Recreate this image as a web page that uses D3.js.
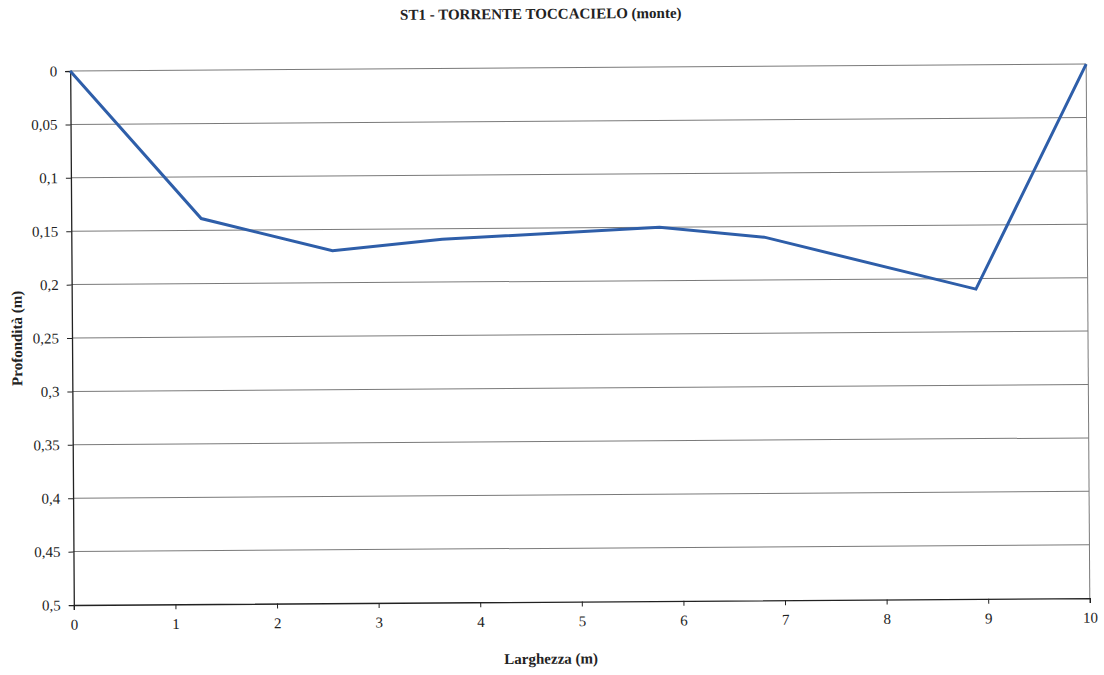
<!DOCTYPE html>
<html><head><meta charset="utf-8">
<script src="https://d3js.org/d3.v7.min.js"></script>
<style>body{margin:0;background:#fff}svg{display:block}
text{font-family:"Liberation Serif","DejaVu Serif",serif}</style>
</head><body>
<script>
const widths = [0, 1.28, 2.57, 3.65, 5.79, 6.82, 8.9, 10];
const depths = [0, 0.139, 0.170, 0.160, 0.150, 0.160, 0.210, 0];
const xTicks = [0,1,2,3,4,5,6,7,8,9,10];
const yTicks = [0,0.05,0.1,0.15,0.2,0.25,0.3,0.35,0.4,0.45,0.5];
const title = "ST1 - TORRENTE TOCCACIELO (monte)";
const xTitle = "Larghezza (m)";
const yTitle = "Profondità (m)";

const W = 1104, H = 675;
const L = 72, R = 1088, T = 71, B = 605;
const svg = d3.select("body").append("svg").attr("width", W).attr("height", H);
const g = svg.append("g").attr("transform", `rotate(-0.39 ${L} 338)`);
const font = "Liberation Serif, DejaVu Serif, serif";

const x = d3.scaleLinear().domain([0,10]).range([L,R]);
const y = d3.scaleLinear().domain([0,0.5]).range([T,B]);
const fmt = d => d3.format("")(d).replace(".", ",");

g.append("g").selectAll("line").data(yTicks.slice(0,-1)).join("line")
  .attr("x1", L).attr("x2", R).attr("y1", d=>y(d)).attr("y2", d=>y(d))
  .attr("stroke", "#7a7a7a").attr("stroke-width", 1);
g.append("line").attr("x1", R).attr("x2", R).attr("y1", T).attr("y2", B)
  .attr("stroke", "#7a7a7a").attr("stroke-width", 1);

const xa = g.append("g").attr("transform", `translate(0,${B})`)
  .call(d3.axisBottom(x).tickValues(xTicks).tickFormat(d3.format("d")).tickSize(5).tickPadding(9));
const ya = g.append("g").attr("transform", `translate(${L},0)`)
  .call(d3.axisLeft(y).tickValues(yTicks).tickFormat(fmt).tickSize(5).tickPadding(8));
[xa, ya].forEach(a => {
  a.attr("font-family", null);
  a.select(".domain").attr("stroke", "#222").attr("stroke-width", 1.3);
  a.selectAll(".tick line").attr("stroke", "#222");
  a.selectAll("text").style("font-family", font).attr("font-size", 15).attr("fill", "#222");
});

g.append("path").datum(widths.map((w,i)=>[w, depths[i]]))
  .attr("d", d3.line().x(d=>x(d[0])).y(d=>y(d[1])))
  .attr("fill", "none").attr("stroke", "#2e5ea9").attr("stroke-width", 3)
  .attr("stroke-linejoin", "miter");

g.append("text").attr("x", 543).attr("y", 22).attr("text-anchor", "middle")
  .style("font-family", font).attr("font-weight", "bold").attr("font-size", 15).attr("fill", "#222").text(title);
g.append("text").attr("x", 549).attr("y", 667).attr("text-anchor", "middle")
  .style("font-family", font).attr("font-weight", "bold").attr("font-size", 15).attr("fill", "#222").text(xTitle);
g.append("text").attr("transform", "translate(22,338) rotate(-90)").attr("text-anchor", "middle")
  .style("font-family", font).attr("font-weight", "bold").attr("font-size", 15).attr("fill", "#222").text(yTitle);
</script>
</body></html>
